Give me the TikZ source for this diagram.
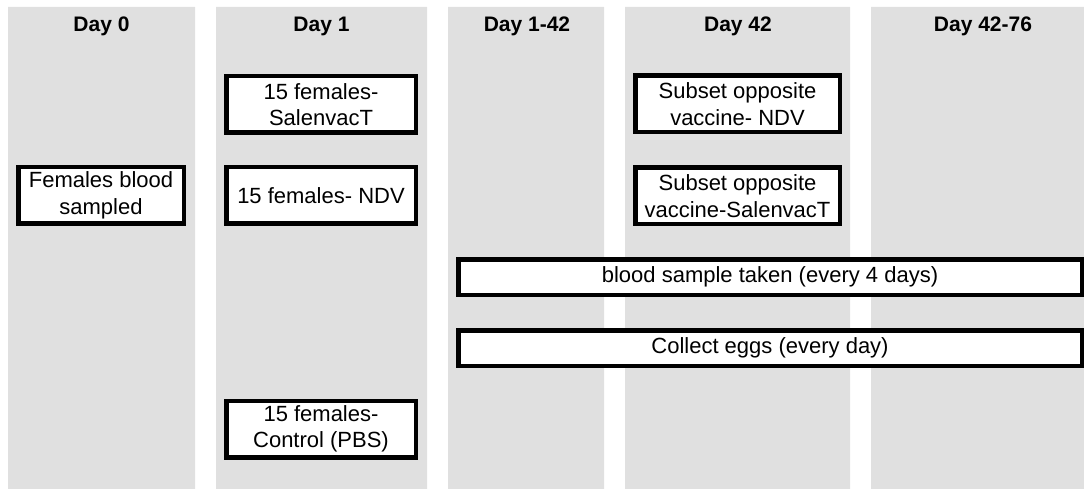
\documentclass[tikz,border=0pt]{standalone}
\usepackage{fontspec}
\setmainfont{Liberation Sans}
\definecolor{colbg}{RGB}{224,224,224}

\begin{document}
\begin{tikzpicture}[x=1pt,y=-1pt]
\useasboundingbox (0,0) rectangle (1084,489);

\fill[colbg] 
(8,7) rectangle (195,489)
(216,7) rectangle (427,489)
(448,7) rectangle (604,489)
(625,7) rectangle (850,489)
(871,7) rectangle (1084,489)
;

\begin{scope}[every node/.style={anchor=base, inner sep=0pt, font=\bfseries\fontsize{21}{25}\selectfont}]
\node(d0) at(101.5,32) {Day 0};
\node(d1) at(321.5,32) {Day 1};
\node(d142) at(527,32) {Day 1-42};
\node(d42) at(738,32) {Day 42};
\node(d4276) at(983,32) {Day 42-76};
\end{scope}

\begin{scope}[every node/.style={draw, line width=4.5pt, fill=white, align=center, inner sep=0pt, minimum height=56.5pt, font=\fontsize{22}{26.5}\selectfont}]
\node[minimum width=165.5pt](fem) at(101,195.5) {Females blood\\sampled};
\node[minimum width=189.5pt](sal) at(321,104.5) {15 females-\\SalenvacT};
\node[minimum width=189.5pt](ndv) at(321,195.5) {15 females- NDV};
\node[minimum width=189.5pt](pbs) at(321,429) {15 females-\\Control (PBS)};
\node[minimum width=204.5pt](subndv) at(737.5,104) {Subset opposite\\vaccine- NDV};
\node[minimum width=204.5pt](subsal) at(737.5,196) {Subset opposite\\vaccine-SalenvacT};
\node[minimum width=623.5pt, minimum height=35.5pt](blood) at(770,277) {blood sample taken (every 4 days)};
\node[minimum width=623.5pt, minimum height=35.5pt](eggs) at(770,348) {Collect eggs (every day)};
\end{scope}

\end{tikzpicture}
\end{document}
